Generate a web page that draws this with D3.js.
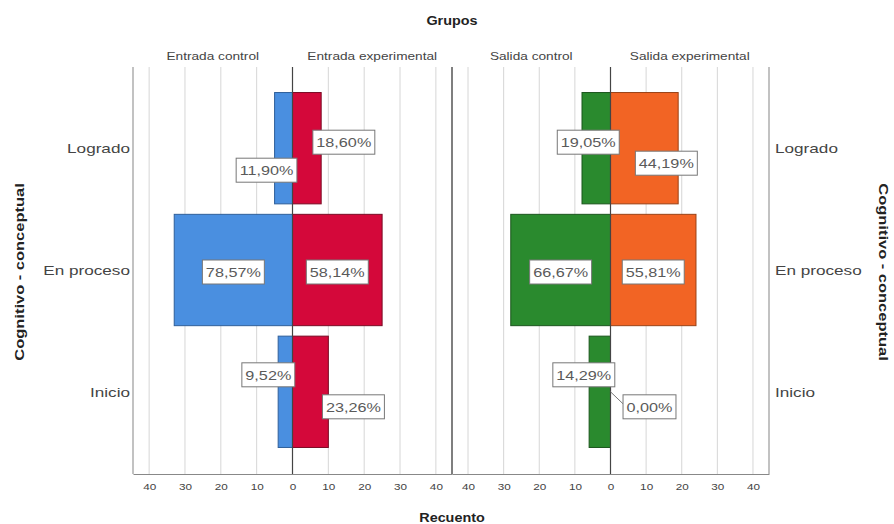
<!DOCTYPE html>
<html><head><meta charset="utf-8">
<script src="https://cdn.jsdelivr.net/npm/d3@7"></script>
<style>
html,body{margin:0;padding:0;background:#fff;}
svg{display:block;font-family:"Liberation Sans",Arial,sans-serif;}
</style></head>
<body>
<svg id="c" width="894" height="524"></svg>
<script>
// ---- data ----
const categories = ["Logrado", "En proceso", "Inicio"];
const groups = ["Entrada control", "Entrada experimental", "Salida control", "Salida experimental"];
const entradaControl = [5, 33, 4];
const entradaExperimental = [8, 25, 10];
const salidaControl = [8, 28, 6];
const salidaExperimental = [19, 24, 0];
const entradaControlPct = ["11,90%", "78,57%", "9,52%"];
const entradaExperimentalPct = ["18,60%", "58,14%", "23,26%"];
const salidaControlPct = ["19,05%", "66,67%", "14,29%"];
const salidaExperimentalPct = ["44,19%", "55,81%", "0,00%"];
const tickValues = [-40, -30, -20, -10, 0, 10, 20, 30, 40];

// ---- layout / style ----
const colors = ["#4a8fe0", "#d4083a", "#2a8a2e", "#f26424"];
const strokes = ["#2f5f9a", "#7a0b24", "#1b561d", "#9a4216"];
// label nudges (px) relative to bar centre, per series & category
const nudges = [
  [[-17, 22], [0, 2], [-17, -17]],
  [[37, -6], [0, 2], [43, 15]],
  [[-8, -6], [0, 2], [-16, -17]],
  [[22, 15], [0, 2], [39, 15]]
];
// the reference renders text horizontally widened
function widen(sel, f) {
  sel.each(function () {
    const L = this.getComputedTextLength();
    d3.select(this).attr("textLength", L * f).attr("lengthAdjust", "spacingAndGlyphs");
  });
  return sel;
}

const svg = d3.select("#c");
const plotTop = 67, plotBottom = 474;
const panels = [
  {range: [133, 452], left: entradaControl, right: entradaExperimental, lp: entradaControlPct, rp: entradaExperimentalPct, gi: 0},
  {range: [452, 769], left: salidaControl, right: salidaExperimental, lp: salidaControlPct, rp: salidaExperimentalPct, gi: 2}
];
const y = d3.scaleBand().domain(categories).range([65, 475]).paddingInner(0.086).paddingOuter(0.226);

const gGrid = svg.append("g"), gBars = svg.append("g"), gLab = svg.append("g");

panels.forEach((p, pi) => {
  const x = d3.scaleLinear().domain([-44.5, 44.5]).range(p.range);
  gGrid.selectAll(null).data(tickValues.filter(d => d !== 0)).enter().append("line")
    .attr("x1", d => x(d)).attr("x2", d => x(d)).attr("y1", plotTop).attr("y2", plotBottom)
    .attr("stroke", "#d6d6d6").attr("stroke-width", 1);
  const ax = d3.axisBottom(x).tickValues(tickValues).tickSize(0).tickPadding(10).tickFormat(d => Math.abs(d));
  const axg = svg.append("g").attr("transform", `translate(0,${plotBottom})`).call(ax);
  axg.select(".domain").attr("stroke", "#888");
  axg.selectAll("text").attr("font-size", 9).attr("fill", "#444").attr("font-family", '"Liberation Sans",Arial,sans-serif');
  widen(axg.selectAll("text"), 1.3);
  widen(svg.append("text").attr("x", (x(-44.5) + x(0)) / 2).attr("y", 60).attr("text-anchor", "middle")
    .attr("font-size", 10.5).attr("fill", "#444").text(groups[p.gi]), 1.3);
  widen(svg.append("text").attr("x", (x(0) + x(44.5)) / 2).attr("y", 60).attr("text-anchor", "middle")
    .attr("font-size", 10.5).attr("fill", "#444").text(groups[p.gi + 1]), 1.3);

  const sides = [
    {vals: p.left, pct: p.lp, sign: -1, ci: p.gi},
    {vals: p.right, pct: p.rp, sign: 1, ci: p.gi + 1}
  ];
  sides.forEach(s => {
    gBars.selectAll(null).data(categories).enter().append("rect")
      .attr("x", (c, i) => Math.min(x(0), x(s.sign * s.vals[i])))
      .attr("width", (c, i) => Math.abs(x(s.sign * s.vals[i]) - x(0)))
      .attr("y", c => y(c)).attr("height", y.bandwidth())
      .attr("fill", colors[s.ci]).attr("stroke", strokes[s.ci]).attr("stroke-width", 1)
      .attr("display", (c, i) => s.vals[i] === 0 ? "none" : null);
    categories.forEach((c, i) => {
      const bx = (x(0) + x(s.sign * s.vals[i])) / 2;
      const by = y(c) + y.bandwidth() / 2;
      const nd = nudges[s.ci][i];
      const cx = bx + nd[0], cy = by + nd[1];
      const g = gLab.append("g");
      const t = g.append("text").attr("x", cx).attr("y", cy + 5).attr("text-anchor", "middle")
        .attr("font-size", 13.5).attr("fill", "#5a5a5a").text(s.pct[i]);
      const natural = t.node().getComputedTextLength();
      t.attr("textLength", natural * 1.2).attr("lengthAdjust", "spacingAndGlyphs");
      const w = natural * 1.2 + 7, h = 24;
      if (s.vals[i] === 0) {
        g.insert("line", "text").attr("x1", x(0)).attr("y1", by).attr("x2", cx - w / 2).attr("y2", cy - 3)
          .attr("stroke", "#777").attr("stroke-width", 1);
      }
      g.insert("rect", "text").attr("x", cx - w / 2).attr("y", cy - h / 2).attr("width", w).attr("height", h)
        .attr("fill", "#fff").attr("stroke", "#777").attr("stroke-width", 1);
    });
  });
  gBars.append("line").attr("x1", x(0)).attr("x2", x(0)).attr("y1", plotTop).attr("y2", plotBottom)
    .attr("stroke", "#444").attr("stroke-width", 1.2);
});

[133, 452, 769].forEach(v => {
  gGrid.append("line").attr("x1", v).attr("x2", v).attr("y1", plotTop).attr("y2", plotBottom)
    .attr("stroke", v === 452 ? "#555" : "#999").attr("stroke-width", v === 452 ? 1.5 : 1.2);
});

widen(svg.append("g").selectAll("text").data(categories).enter().append("text")
  .attr("x", 130).attr("y", c => y(c) + y.bandwidth() / 2 + 5).attr("text-anchor", "end")
  .attr("font-size", 13.5).attr("fill", "#444").text(c => c), 1.27);
widen(svg.append("g").selectAll("text").data(categories).enter().append("text")
  .attr("x", 775).attr("y", c => y(c) + y.bandwidth() / 2 + 5).attr("text-anchor", "start")
  .attr("font-size", 13.5).attr("fill", "#444").text(c => c), 1.27);

widen(svg.append("text").attr("x", 452).attr("y", 25).attr("text-anchor", "middle")
  .attr("font-size", 12.5).attr("font-weight", "bold").attr("fill", "#222").text("Grupos"), 1.15);
widen(svg.append("text").attr("x", 452).attr("y", 522).attr("text-anchor", "middle")
  .attr("font-size", 12.5).attr("font-weight", "bold").attr("fill", "#222").text("Recuento"), 1.15);
widen(svg.append("text").attr("transform", "translate(24,272) rotate(-90)").attr("text-anchor", "middle")
  .attr("font-size", 13.5).attr("font-weight", "bold").attr("fill", "#222").text("Cognitivo - conceptual"), 1.22);
widen(svg.append("text").attr("transform", "translate(879,272) rotate(90)").attr("text-anchor", "middle")
  .attr("font-size", 13.5).attr("font-weight", "bold").attr("fill", "#222").text("Cognitivo - conceptual"), 1.22);
</script>
</body></html>
